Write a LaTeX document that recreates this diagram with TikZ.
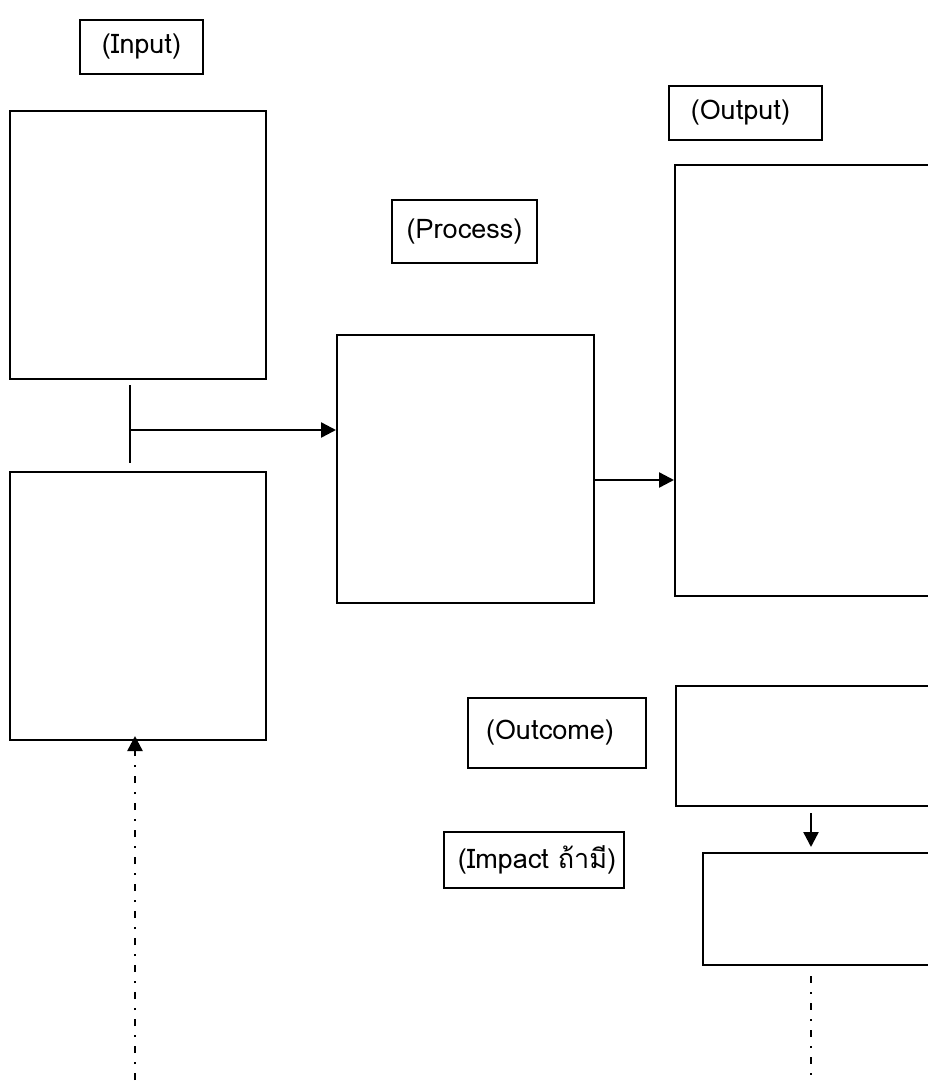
\documentclass[tikz,border=0pt]{standalone}
\usepackage{fontspec}
\setmainfont[Script=Thai]{Loma}
\usetikzlibrary{arrows.meta}
\begin{document}
\begin{tikzpicture}[x=1pt,y=-1pt,
  box/.style={draw,line width=2pt,inner sep=0pt},
  lbl/.style={draw,line width=1.8pt,inner sep=0pt,font=\fontsize{27}{32}\selectfont},
  conn/.style={line width=2.4pt},
  arr/.style={line width=2.4pt,-{Triangle[length=15pt,width=15pt]}},
  dd/.style={line width=2.4pt,dash pattern=on 7pt off 9pt on 2pt off 9pt}]
\clip (0,0) rectangle (928,1092);
\fill[white] (0,0) rectangle (928,1092);
% labels
\node[lbl,minimum width=123pt,minimum height=54pt] (linput) at (141.5,47) {(Input)};
\node[lbl,minimum width=145pt,minimum height=63pt] (lproc) at (464.5,231.5) {(Process)};
\node[lbl,minimum width=153pt,minimum height=54pt] (lout) at (745.5,113) {\hspace*{-10pt}(Output)};
\node[lbl,minimum width=178pt,minimum height=70pt] (loutc) at (557,733) {\hspace*{-14pt}(Outcome)};
\node[lbl,minimum width=180pt,minimum height=56pt] (limp) at (534,860) {\hspace*{6pt}(Impact ถ้ามี)};
% boxes
\node[box,minimum width=256pt,minimum height=268pt] (in1) at (138,245) {};
\node[box,minimum width=256pt,minimum height=268pt] (in2) at (138,606) {};
\node[box,minimum width=257pt,minimum height=268pt] (proc) at (465.5,469) {};
\node[box,minimum width=265pt,minimum height=431pt] (out) at (807.5,380.5) {};
\node[box,minimum width=264pt,minimum height=120pt] (outc) at (808,746) {};
\node[box,minimum width=237pt,minimum height=112pt] (imp) at (821.5,909) {};
% connectors
\coordinate (vt) at (130,385);
\coordinate (vb) at (130,463);
\coordinate (j) at (130,430);
\draw[conn] (vt) -- (vb);
\draw[arr] (j) -- (j -| proc.west);
\coordinate (pa) at (594,480);
\draw[arr] (pa -| proc.east) -- (pa -| out.west);
\coordinate (oa) at (811,0);
\draw[arr] ([yshift=-6pt]oa |- outc.south) -- ([yshift=5pt]oa |- imp.north);
\coordinate (iend) at (811,1082);
\draw[dd] ([yshift=-10pt]iend |- imp.south) -- (iend);
\coordinate (lstart) at (135,1080);
\draw[dd,-{Triangle[length=15pt,width=15pt]}] (lstart) -- ([yshift=5pt]lstart |- in2.south);
\end{tikzpicture}
\end{document}
